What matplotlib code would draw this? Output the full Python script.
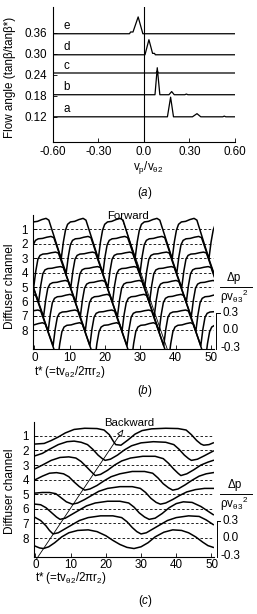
import numpy as np
import matplotlib
matplotlib.use('Agg')
import matplotlib.pyplot as plt

plt.rcParams['font.family'] = ['Liberation Sans', 'DejaVu Sans']
plt.rcParams['mathtext.fontset'] = 'custom'
plt.rcParams['mathtext.rm'] = 'Liberation Sans'
plt.rcParams['mathtext.it'] = 'Liberation Sans:italic'
plt.rcParams['mathtext.bf'] = 'Liberation Sans:bold'
plt.rcParams['font.size'] = 8.4

# ---- (a) velocity spectra at each flow angle
a_names = ['a', 'b', 'c', 'd', 'e']
a_levels = [0.12, 0.183, 0.245, 0.297, 0.357]
a_v = [
    [-0.60, 0.155, 0.176, 0.195, 0.32, 0.350, 0.375, 0.52, 0.53, 0.54, 0.60],
    [-0.60, 0.073, 0.088, 0.105, 0.165, 0.183, 0.20, 0.27, 0.28, 0.29, 0.60],
    [-0.60, 0.08, 0.088, 0.095, 0.60],
    [-0.60, 0.007, 0.033, 0.057, 0.070, 0.075, 0.60],
    [-0.60, -0.095, -0.088, -0.072, -0.038, -0.007, 0.60],
]
a_amp = [
    [0, 0, 0.056, 0, 0, 0.009, 0, 0, 0.002, 0, 0],
    [0, 0, 0.077, 0, 0, 0.009, 0, 0, 0.002, 0, 0],
    [0, 0, 0.006, 0, 0],
    [0, 0, 0.043, 0.004, 0.004, 0, 0],
    [0, 0, 0.005, 0.005, 0.048, 0, 0],
]
a_xticks = [-0.6, -0.3, 0.0, 0.3, 0.6]
a_xlabels = ['-0.60', '-0.30', '0.0', '0.30', '0.60']
a_yticks = [0.12, 0.18, 0.24, 0.30, 0.36]
a_ylabels = ['0.12', '0.18', '0.24', '0.30', '0.36']

# ---- (b) forward: one period of the pressure trace (time after minimum) and minima per channel
b_tau = [0.0, 0.6, 1.2, 1.8, 2.6, 3.8, 5.0, 6.2, 7.0]
b_dp = [-0.50, -0.22, -0.02, 0.08, 0.12, 0.13, 0.16, 0.18, 0.15]
b_peak = [0.18, 0.12, 0.10, 0.10, 0.11, 0.12, 0.10, 0.13]
b_minima = [
    [-2.9, 7.6, 18.1, 28.5, 39.0, 49.4, 59.9],
    [-1.5, 9.0, 19.4, 29.9, 40.3, 50.8],
    [-0.2, 10.3, 20.8, 31.2, 41.7, 52.1],
    [-9.3, 1.2, 11.7, 22.1, 32.6, 43.0, 53.5],
    [-7.9, 2.6, 13.0, 23.5, 33.9, 44.4, 54.8],
    [-6.6, 3.9, 14.4, 24.8, 35.3, 45.7, 56.2],
    [-5.2, 5.3, 15.7, 26.2, 36.6, 47.1, 57.5],
    [-3.9, 6.6, 17.1, 27.5, 38.0, 48.4, 58.9],
]

# ---- (c) backward: pressure traces per channel
c_t = [
    [0, 2.5, 4.5, 6.5, 8.5, 11, 14, 17.5, 19.5, 21, 22, 22.8, 24.3, 26.3, 28.3, 30.3, 33, 37, 40.5, 42.8, 44.3, 45.8, 47, 47.8, 49.3, 50.5],
    [0, 2, 4, 6.5, 9, 11, 13, 14.8, 16.3, 17.8, 19, 19.8, 21.3, 23.3, 25.3, 27.3, 30, 33.5, 37, 39.3, 40.8, 42.3, 43.5, 44.3, 46, 48, 50.5],
    [0, 2, 4.5, 7, 9.5, 11.5, 13, 14.5, 15.8, 17.0, 18.5, 20.5, 22.5, 24.5, 27, 30.5, 34, 36.3, 37.8, 39.3, 40.5, 41.3, 43, 45, 47, 49, 50.5],
    [0, 2, 4, 6, 8, 9.5, 11, 12.5, 14.0, 15.5, 17.5, 19.5, 21.5, 24, 27.5, 31, 33.3, 34.8, 36.3, 37.8, 39.0, 40.5, 42.5, 44.5, 46.5, 48.5, 50.5],
    [0, 2, 4, 5.8, 7.3, 8.8, 10.5, 12, 14, 16, 18, 20.5, 24, 27.5, 29.8, 31.3, 32.8, 34.3, 35.5, 37, 39, 41, 43, 45.5, 48, 50.5],
    [0, 1.5, 3, 4.5, 6, 7.0, 8.5, 10.5, 12.5, 14.5, 17, 20.5, 24, 26.5, 28, 29.5, 31, 32.3, 34, 36, 38, 40, 42, 44.5, 47, 49, 50.5],
    [0, 1.5, 3, 4.0, 5.0, 6.5, 8.5, 10.5, 12.5, 15, 18.5, 22, 24.5, 26, 27.5, 28.8, 30.0, 31.5, 33.5, 35.5, 37.5, 40, 43.5, 46.5, 48.5, 50.5],
    [0, 1.2, 2.3, 3.8, 5.5, 7.5, 9.5, 12, 15, 17.5, 20, 22, 24, 26, 28.0, 30, 32, 34, 36.5, 39, 41.5, 43.5, 45.5, 47.5, 49, 50.5],
]
c_dp = [
    [-0.14, -0.13, -0.08, -0.02, 0.05, 0.11, 0.13, 0.125, 0.10, 0.02, -0.08, -0.15, -0.16, -0.07, 0.03, 0.09, 0.12, 0.13, 0.125, 0.10, 0.02, -0.08, -0.14, -0.16, -0.15, -0.12],
    [-0.09, -0.05, 0.02, 0.10, 0.15, 0.16, 0.14, 0.10, 0.02, -0.08, -0.14, -0.17, -0.15, -0.08, 0.01, 0.08, 0.13, 0.15, 0.14, 0.10, 0.02, -0.08, -0.14, -0.17, -0.15, -0.09, -0.01],
    [-0.06, 0.00, 0.08, 0.13, 0.14, 0.12, 0.06, -0.03, -0.11, -0.18, -0.16, -0.09, 0.00, 0.07, 0.12, 0.15, 0.15, 0.11, 0.03, -0.07, -0.14, -0.18, -0.15, -0.08, 0.00, 0.05, 0.08],
    [0.00, 0.06, 0.11, 0.12, 0.10, 0.05, -0.04, -0.12, -0.18, -0.16, -0.10, -0.02, 0.05, 0.10, 0.14, 0.14, 0.11, 0.03, -0.07, -0.14, -0.18, -0.16, -0.09, -0.01, 0.06, 0.10, 0.12],
    [0.02, 0.03, 0.03, 0.01, -0.06, -0.13, -0.17, -0.15, -0.09, -0.02, 0.05, 0.10, 0.13, 0.13, 0.10, 0.03, -0.07, -0.14, -0.17, -0.15, -0.09, -0.02, 0.04, 0.08, 0.10, 0.10],
    [0.08, 0.07, 0.02, -0.06, -0.14, -0.18, -0.16, -0.09, -0.02, 0.05, 0.10, 0.13, 0.13, 0.10, 0.03, -0.07, -0.14, -0.18, -0.16, -0.08, 0.02, 0.09, 0.12, 0.11, 0.04, -0.04, -0.10],
    [0.10, 0.05, -0.04, -0.12, -0.18, -0.16, -0.09, -0.02, 0.05, 0.10, 0.13, 0.13, 0.10, 0.03, -0.07, -0.14, -0.18, -0.16, -0.09, -0.02, 0.05, 0.10, 0.13, 0.12, 0.06, -0.02],
    [-0.14, -0.17, -0.18, -0.15, -0.08, 0.02, 0.09, 0.13, 0.14, 0.11, 0.04, -0.04, -0.11, -0.16, -0.18, -0.15, -0.08, 0.02, 0.10, 0.14, 0.13, 0.09, 0.02, -0.07, -0.13, -0.16],
]

channels = [1, 2, 3, 4, 5, 6, 7, 8]
t_ticks = [0, 10, 20, 30, 40, 50]
scale_labels = ['0.3', '0.0', '-0.3']
t_label = r't* (=tv$_{\mathrm{θ2}}$/2πr$_2$)'


def clean(ax):
    for s in ['top', 'right']:
        ax.spines[s].set_visible(False)
    for s in ['left', 'bottom']:
        ax.spines[s].set_linewidth(0.8)
    ax.tick_params(direction='in', length=3, width=0.6, labelsize=8.4)


def channel_panel(ax, curves, s):
    clean(ax)
    for ch in channels:
        ax.plot([0, 50.6], [ch, ch], color='k', lw=0.6, ls=(0, (3, 2.5)))
    for ch, (t, dp) in zip(channels, curves):
        ax.plot(t, ch - s * np.array(dp), color='k', lw=1.1, solid_joinstyle='round')
    ax.set_xlim(-0.3, 50.7)
    ax.set_ylim(9.28, 0.03)
    ax.set_xticks(t_ticks)
    ax.set_yticks(channels)
    ax.tick_params(axis='y', pad=4)
    ax.tick_params(axis='x', pad=2)
    # pressure scale bar on the right
    ax.plot([51.5, 51.5], [8 - 0.3 * s, 9.28], color='k', lw=0.7, clip_on=False)
    ax.plot([51.5, 52.4], [8 - 0.3 * s, 8 - 0.3 * s], color='k', lw=0.7, clip_on=False)
    for val, lab in zip([0.3, 0.0, -0.3], scale_labels):
        ax.text(55.4, min(8 - val * s, 9.3), lab, ha='center', va='center', clip_on=False)
    ax.text(56.5, 4.4, 'Δp', ha='center', va='center')
    ax.plot([52.5, 61.6], [5.0, 5.0], color='k', lw=0.7, clip_on=False)
    ax.text(56.5, 5.65, r'ρv$_{\mathrm{θ3}}$$^{2}$', ha='center', va='center')


fig = plt.figure(figsize=(2.57, 6.14), dpi=100)

# panel (a)
ax = fig.add_axes([0.206, 0.769, 0.708, 0.220])
clean(ax)
for name, lvl, v, amp in zip(a_names, a_levels, a_v, a_amp):
    ax.plot(v, lvl + np.array(amp), color='k', lw=0.9)
    ax.text(-0.51, lvl + 0.004, name, ha='center', va='bottom')
ax.axvline(0, color='k', lw=0.8)
ax.set_xlim(-0.6, 0.6)
ax.set_ylim(0.0486, 0.434)
ax.set_xticks(a_xticks)
ax.set_xticklabels(a_xlabels)
ax.set_yticks(a_yticks)
ax.set_yticklabels(a_ylabels)
ax.tick_params(axis='x', pad=3)
ax.tick_params(axis='y', pad=4)
fig.text(148 / 257, 1 - 168 / 614, r'$\mathrm{v_p/v_{θ2}}$', ha='center', va='center')
fig.text(10 / 257, 1 - 77 / 614, 'Flow angle (tanβ/tanβ*)', rotation=90,
         ha='center', va='center')
fig.text(145 / 257, 1 - 193 / 614, r'($\mathit{a}$)', ha='center', va='center')

# panel (b)
b_curves = []
for mins, pk in zip(b_minima, b_peak):
    shape = [d if d < 0 else d * pk / 0.18 for d in b_dp]
    ts, vs = [], []
    for m in mins[:-1]:
        ts += [m + a for a in b_tau]
        vs += shape
    ts.append(mins[-1])
    vs.append(shape[0])
    b_curves.append((ts, vs))
ax = fig.add_axes([0.1296, 0.4316, 0.7012, 0.2182])
channel_panel(ax, b_curves, 4.1)
ax.plot([25.0, 37.6], [0.4, 9.28], color='k', lw=0.6)
ax.text(26.5, 0.1, 'Forward', ha='center', va='center', fontsize=8.2)
fig.text(10 / 257, 1 - 286 / 614, 'Diffuser channel', rotation=90,
         ha='center', va='center', fontsize=8.6)
fig.text(34 / 257, 1 - 372 / 614, t_label, ha='left', va='center')
fig.text(145 / 257, 1 - 391 / 614, r'($\mathit{b}$)', ha='center', va='center')

# panel (c)
ax = fig.add_axes([0.1335, 0.0933, 0.699, 0.2199])
channel_panel(ax, list(zip(c_t, c_dp)), 4.0)
ax.annotate('', xy=(25.0, 0.55), xytext=(0.3, 9.45),
            arrowprops=dict(arrowstyle='-|>,head_length=0.5,head_width=0.2',
                            fc='white', ec='k', lw=0.6, shrinkA=0, shrinkB=0),
            annotation_clip=False)
ax.text(26.6, 0.11, 'Backward', ha='center', va='center', fontsize=8.2)
fig.text(10 / 257, 1 - 491 / 614, 'Diffuser channel', rotation=90,
         ha='center', va='center', fontsize=8.6)
fig.text(35 / 257, 1 - 578 / 614, t_label, ha='left', va='center')
fig.text(145 / 257, 1 - 601 / 614, r'($\mathit{c}$)', ha='center', va='center')

fig.savefig('out.png', dpi=100)
